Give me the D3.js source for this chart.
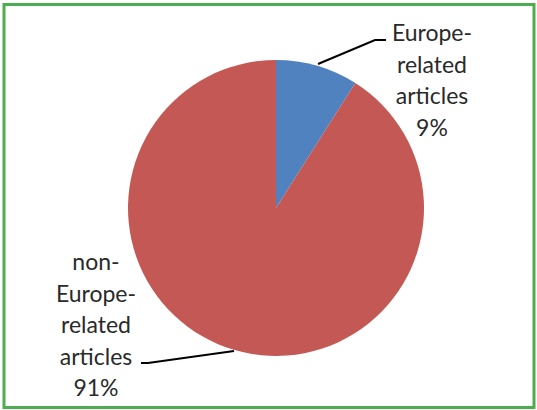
<!DOCTYPE html>
<html>
<head>
<meta charset="utf-8">
<script src="https://cdn.jsdelivr.net/npm/d3@7"></script>
<style>
  body { margin: 0; background: #fff; }
  svg text { font-family: Lato, "Open Sans", sans-serif; fill: #2a2a2a; }
</style>
</head>
<body>
<div id="chart"></div>
<script>
// Data
const categories = ['Europe-related articles', 'non-Europe-related articles'];
const values = [9, 91];
const labelLines = [
  ['Europe-', 'related', 'articles', '9%'],
  ['non-', 'Europe-', 'related', 'articles', '91%']
];
const colors = ['#5082BF', '#C45855'];

const width = 537, height = 410;
const cx = 276, cy = 208, radius = 148;

const svg = d3.select('#chart').append('svg')
  .attr('width', width).attr('height', height);

// green frame
svg.append('rect')
  .attr('x', 4).attr('y', 4.5)
  .attr('width', 530).attr('height', 403)
  .attr('fill', '#fff')
  .attr('stroke', '#4cae4f')
  .attr('stroke-width', 3);

const pie = d3.pie().sort(null).value(d => d);
const arcs = pie(values);
const arc = d3.arc().innerRadius(0).outerRadius(radius);

const g = svg.append('g').attr('transform', `translate(${cx},${cy})`);
g.selectAll('path')
  .data(arcs)
  .join('path')
  .attr('d', arc)
  .attr('fill', (d, i) => colors[i]);

// label positions (text block centre x, first line baseline y) and leader lines
const labelPos = [
  { x: 432, y: 41, lead: [[318, 64], [375, 40], [386, 40]] },
  { x: 96, y: 270, lead: [[234, 351], [148, 363], [141, 363]] }
];
const lineH = 31.5;

svg.append('g')
  .selectAll('path')
  .data(labelPos)
  .join('path')
  .attr('d', d => d3.line()(d.lead))
  .attr('fill', 'none')
  .attr('stroke', '#000')
  .attr('stroke-width', 2);

labelPos.forEach((p, i) => {
  const t = svg.append('text')
    .attr('text-anchor', 'middle')
    .attr('font-size', 23);
  labelLines[i].forEach((s, j) => {
    t.append('tspan').attr('x', p.x).attr('y', p.y + j * lineH).text(s);
  });
});
</script>
</body>
</html>
